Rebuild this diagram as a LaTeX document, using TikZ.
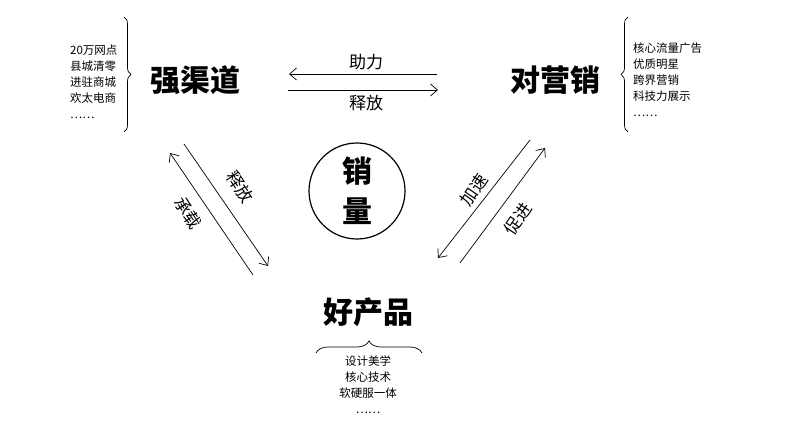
\documentclass[tikz,border=0pt]{standalone}
\usepackage{fontspec}
\setmainfont{Noto Sans CJK SC}
\usetikzlibrary{arrows.meta,decorations.pathreplacing}
\begin{document}
\begin{tikzpicture}[x=1pt,y=-1pt,
  big/.style={font=\fontsize{30}{32}\selectfont\bfseries},
  lab/.style={font=\fontsize{17}{18}\selectfont,inner sep=1pt},
  small/.style={font=\fontsize{11.5}{16}\selectfont,align=left,inner sep=0},
  arr/.style={-{Straight Barb[length=7pt,width=12pt]},line width=0.7pt},
  br/.style={decorate,decoration={brace,amplitude=7pt},line width=0.7pt}]
\useasboundingbox (0,0) rectangle (787,433);
\node[big] (qd) at (195,80) {强渠道};
\node[big] (yx) at (555,80) {对营销};
\node[big] (cp) at (368,312) {好产品};
\node[circle,draw,line width=1.2pt,minimum size=96pt,inner sep=0] (xl) at (357,191) {};
\node[big] (x1) at (357,171) {销};
\node[big] (x2) at (357,211) {量};
% texts
\node[small,anchor=west] (lt) at (70,82) {20万网点\\县城清零\\进驻商城\\欢太电商\\……};
\node[small,anchor=west] (rt) at (633,80) {核心流量广告\\优质明星\\跨界营销\\科技力展示\\……};
\node[small,align=center,anchor=north] (bt) at (368,356) {设计美学\\核心技术\\软硬服一体\\……};
% braces
\coordinate (lb1) at (124,17); \coordinate (lb2) at (124,132);
\draw[br] (lb1) -- (lb2);
\coordinate (rb1) at (628,132); \coordinate (rb2) at (628,17);
\draw[br] (rb1) -- (rb2);
\coordinate (bb1) at (316,353); \coordinate (bb2) at (422,353);
\draw[br,decoration={amplitude=12pt}] (bb1) -- (bb2);
% top arrows
\coordinate (t1) at (437,74); \coordinate (t2) at (289,74);
\coordinate (t3) at (288,90); \coordinate (t4) at (438,90);
\draw[arr] (t1) -- (t2);
\draw[arr] (t3) -- (t4);
\node[lab] (zl) at (366,62) {助力};
\node[lab] (sf) at (366,103) {释放};
% left arrows
\coordinate (l1) at (253,275); \coordinate (l2) at (170,153);
\coordinate (l3) at (184,144); \coordinate (l4) at (268,266);
\draw[arr] (l1) -- (l2);
\draw[arr] (l3) -- (l4);
\node[lab,rotate=-56] (sf2) at (240,187) {释放};
\node[lab,rotate=-56] (cz) at (188,213) {承载};
% right arrows
\coordinate (r1) at (530,140); \coordinate (r2) at (438,258);
\coordinate (r3) at (460,263); \coordinate (r4) at (545,148);
\draw[arr] (r1) -- (r2);
\draw[arr] (r3) -- (r4);
\node[lab,rotate=56] (js) at (474,190) {加速};
\node[lab,rotate=56] (cj) at (518,219) {促进};
\end{tikzpicture}
\end{document}
